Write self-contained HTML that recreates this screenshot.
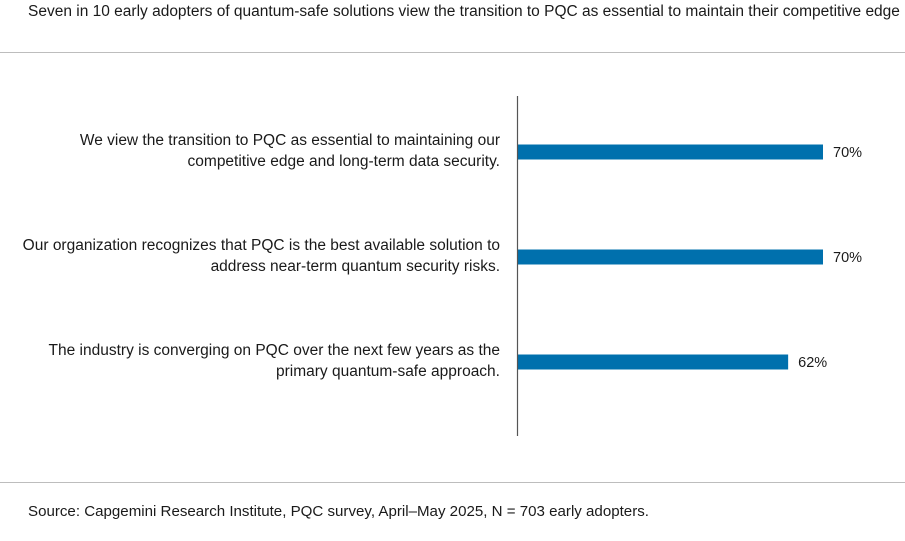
<!DOCTYPE html>
<html><head><meta charset="utf-8"><style>
body{margin:0;width:905px;height:541px;background:#fff;font-family:"Liberation Sans",sans-serif;color:#1a1a1a;overflow:hidden;position:relative}
#title{position:absolute;left:28px;top:3px;font-size:15.5px;white-space:nowrap}
.rule{position:absolute;left:0;width:905px;height:1px;background:#bdbdbd}
#source{position:absolute;left:28px;top:503px;font-size:15.1px;white-space:nowrap}
svg{position:absolute;left:0;top:0}
</style></head><body>
<div id="title">Seven in 10 early adopters of quantum-safe solutions view the transition to PQC as essential to maintain their competitive edge</div>
<div class="rule" style="top:52px"></div>
<svg width="905" height="541" id="chart"></svg>
<div class="rule" style="top:482px"></div>
<div id="source">Source: Capgemini Research Institute, PQC survey, April–May 2025, N = 703 early adopters.</div>
<script>
const categories=[["We view the transition to PQC as essential to maintaining our","competitive edge and long-term data security."],["Our organization recognizes that PQC is the best available solution to","address near-term quantum security risks."],["The industry is converging on PQC over the next few years as the","primary quantum-safe approach."]];
const values=[70,70,62];
const labels=["70%","70%","62%"];
const svg=document.getElementById('chart');
const NS='http://www.w3.org/2000/svg';
const x0=518, scale=305/70;
const xf=v=>x0+v*scale;
const yf=i=>152+i*105;
function mk(t,a){const e=document.createElementNS(NS,t);for(const k in a)e.setAttribute(k,a[k]);svg.appendChild(e);return e;}
values.forEach((v,i)=>{
 const b=mk('rect',{x:x0,y:yf(i)-7.5,width:xf(v)-x0,height:15,fill:'#0070ad'});
 
 
 const t=mk('text',{x:xf(v)+10,y:yf(i)+5,'font-size':14.5,fill:'#1a1a1a','font-family':'Liberation Sans, sans-serif'});
 t.textContent=labels[i];
 
 
 categories[i].forEach((line,j)=>{
  const c=mk('text',{x:500,y:yf(i)-7+j*21,'font-size':15.5,'text-anchor':'end',fill:'#1a1a1a','font-family':'Liberation Sans, sans-serif'});
  c.textContent=line;
  
  
 });
});
const ax=mk('line',{x1:517.5,x2:517.5,y1:96,y2:436,stroke:'#555','stroke-width':1.2});


</script>
</body></html>
